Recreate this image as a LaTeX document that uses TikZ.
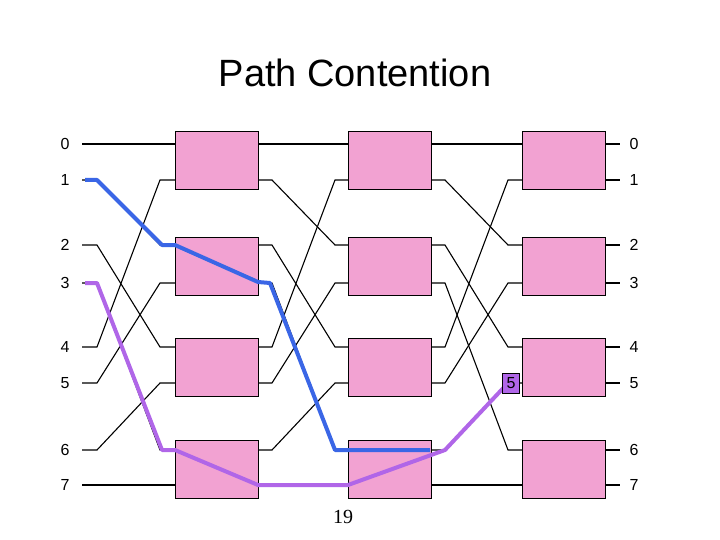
\documentclass[tikz,border=0pt]{standalone}
\usepackage{fontspec}
\setmainfont{Liberation Sans}
\newfontfamily\pgserif{Liberation Serif}
\begin{document}
\begin{tikzpicture}[x=1pt,y=-1pt,
  sw/.style={draw=black,fill=swpink,line width=1pt},
  wire/.style={draw=black,line width=1.1pt},
  lab/.style={font=\fontsize{16}{18}\selectfont},
  bluep/.style={draw=pathblue,line width=4pt,line join=round},
  purp/.style={draw=pathpurple,line width=4pt,line join=round}]
\definecolor{swpink}{HTML}{F2A2D2}
\definecolor{pathblue}{HTML}{3A66E6}
\definecolor{pathpurple}{HTML}{B066E8}
\useasboundingbox (0,0) rectangle (720,540);
\node[font=\fontsize{38}{40}\selectfont] (title) at (355,73) {Path Contention};
\def\P{{144,180,245,283,347,383,450,485}}
\def\D{{0,2,4,6,1,3,5,7}}
% wires
\foreach \xa/\xb/\xc/\xd in {82/97/160/175,258/272/335/348,431/445/508/522}{
  \foreach \i in {0,...,7}{
    \pgfmathsetmacro\ys{\P[\i]}
    \pgfmathsetmacro\dd{\D[\i]}
    \pgfmathsetmacro\yd{\P[\dd]}
    \draw[wire] (\xa,\ys) -- (\xb,\ys) -- (\xc,\yd) -- (\xd,\yd);
  }}
\foreach \i in {0,...,7}{
  \pgfmathsetmacro\ys{\P[\i]}
  \draw[wire] (605,\ys) -- (620,\ys);
  \node[lab] (l\i) at (65,\ys) {\i};
  \node[lab] (r\i) at (634,\ys) {\i};
}
% switches
\foreach \c/\x in {1/175,2/348,3/522}{
  \foreach \r/\y in {1/132,2/237,3/338,4/440}{
    \path[sw] (\x,\y) rectangle ++(83,58);
    \coordinate (s\c\r) at (\x,\y);
  }}
% paths
\draw[bluep] (85,180) -- (97,180) -- (162,245) -- (175,245) -- (258,282) -- (270,283) -- (335,450) -- (430,450);
\draw[purp] (85,283) -- (97,283) -- (162,450) -- (175,450) -- (258,485) -- (348,485) -- (445,450) -- (508,383);
\node[draw=black,fill=pathpurple,minimum width=17pt,minimum height=20pt,inner sep=0pt,lab] (five) at (511,383) {5};
\node[font=\fontsize{20}{22}\selectfont\pgserif] (pg) at (343,517) {19};
\end{tikzpicture}
\end{document}
